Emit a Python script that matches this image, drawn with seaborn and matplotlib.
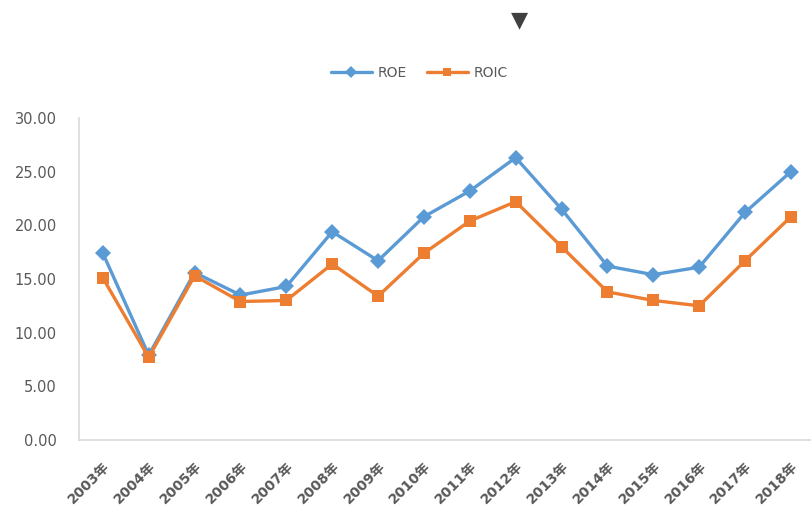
import pandas as pd
import matplotlib.pyplot as plt
import seaborn as sns

# values
years = [2003, 2004, 2005, 2006, 2007, 2008, 2009, 2010,
         2011, 2012, 2013, 2014, 2015, 2016, 2017, 2018]
roe = [17.4, 7.9, 15.6, 13.5, 14.3, 19.4, 16.7, 20.8,
       23.2, 26.3, 21.5, 16.2, 15.4, 16.1, 21.2, 25.0]
roic = [15.1, 7.7, 15.3, 12.9, 13.0, 16.4, 13.4, 17.4,
        20.4, 22.2, 18.0, 13.8, 13.0, 12.5, 16.7, 20.8]
tick_labels = [f'{y}年' for y in years]

df = pd.DataFrame({
    'year': years * 2,
    'value': roe + roic,
    'series': ['ROE'] * len(years) + ['ROIC'] * len(years),
})

sns.set_style('white')
plt.rcParams['font.family'] = ['DejaVu Sans', 'Noto Sans CJK SC']

fig = plt.figure(figsize=(8.11, 5.15), dpi=100)
ax = fig.add_axes([0.0974, 0.1456, 0.905, 0.6254])

palette = {'ROE': '#5B9BD5', 'ROIC': '#ED7D31'}
sns.lineplot(data=df, x='year', y='value', hue='series', style='series',
             palette=palette, markers={'ROE': 'D', 'ROIC': 's'}, dashes=False,
             linewidth=2.4, markersize=8, markeredgewidth=0, ax=ax)

ax.set_xlim(years[0] - 0.52, years[-1] + 0.48)
ax.set_ylim(0, 30)
ax.set_yticks(range(0, 31, 5))
ax.set_yticklabels([f'{v:.2f}' for v in range(0, 31, 5)], color='#595959', fontsize=10.5)
ax.set_xticks(years)
ax.set_xticklabels(tick_labels, rotation=45, ha='right', rotation_mode='anchor',
                   color='#595959', fontsize=10, fontweight='bold')
ax.tick_params(axis='x', length=0, pad=14)
ax.tick_params(axis='y', length=0, pad=16)
ax.set_xlabel('')
ax.set_ylabel('')

for side in ['top', 'right']:
    ax.spines[side].set_visible(False)
for side in ['left', 'bottom']:
    ax.spines[side].set_color('#D9D9D9')
    ax.spines[side].set_linewidth(1.2)

handles, labels = ax.get_legend_handles_labels()
ax.legend(handles, labels, loc='center', bbox_to_anchor=(0.517, 0.858),
          bbox_transform=fig.transFigure, ncol=2, frameon=False,
          fontsize=10, handlelength=3, columnspacing=1.4, handletextpad=0.4,
          labelcolor='#595959', markerscale=0.8)

fig.text(0.64, 0.96, '▼', ha='center', va='center', fontsize=16,
         color='#404040')

fig.savefig('out.png', dpi=100)
